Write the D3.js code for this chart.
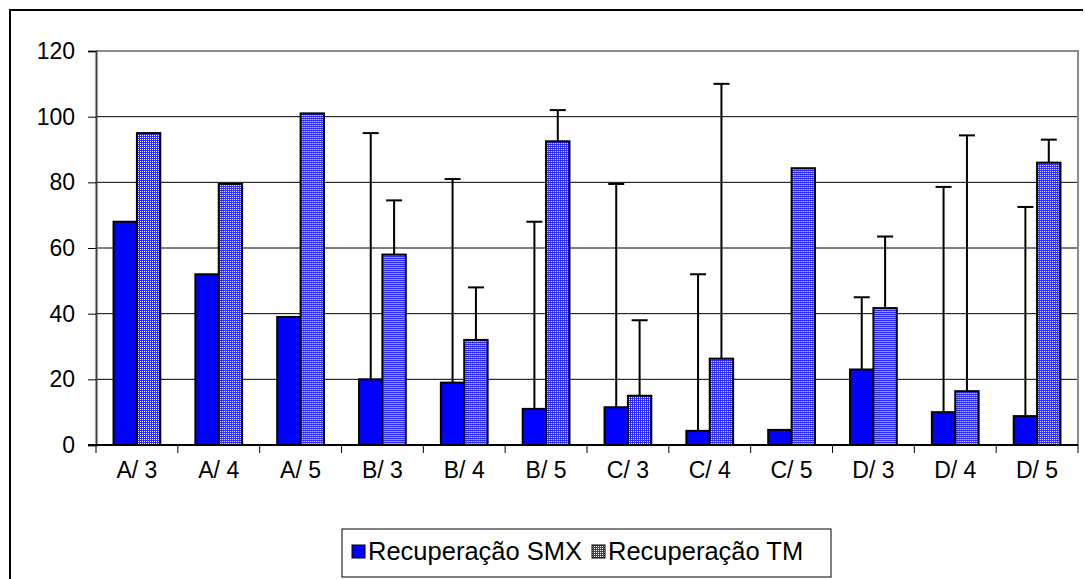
<!DOCTYPE html>
<html>
<head>
<meta charset="utf-8">
<script src="https://cdn.jsdelivr.net/npm/d3@7"></script>
<style>
  body { margin: 0; background: #fff; }
  text { font-family: "Liberation Sans", Arial, sans-serif; fill: #000; }
</style>
</head>
<body>
<div class="chart"></div>
<script>
// categories and values
var categories = ["A/ 3", "A/ 4", "A/ 5", "B/ 3", "B/ 4", "B/ 5", "C/ 3", "C/ 4", "C/ 5", "D/ 3", "D/ 4", "D/ 5"];
var smx = [68, 52, 39, 20, 19, 11, 11.5, 4.3, 4.6, 23, 10, 8.8];
var tm = [95, 79.5, 101, 58, 32, 92.5, 15, 26.3, 84.3, 41.7, 16.4, 86];
// top end of the (plus only) error bars, null = no bar
var smxHigh = [null, null, null, 95, 81, 68, 79.5, 52, null, 45, 78.6, 72.5];
var tmHigh = [null, null, null, 74.5, 48, 102, 38, 110, null, 63.5, 94.3, 93];
var yTicks = [0, 20, 40, 60, 80, 100, 120];
var seriesNames = ["Recuperação SMX", "Recuperação TM"];

var svgWidth = 1085;
var svgHeight = 579;
var margin = { top: 51, right: 7, bottom: 134, left: 96 };
var width = svgWidth - margin.left - margin.right;
var height = svgHeight - margin.top - margin.bottom;

var svg = d3.select(".chart")
  .append("svg")
  .attr("width", svgWidth)
  .attr("height", svgHeight);

// dithered blue fill for the TM series
var pat = svg.append("defs").append("pattern")
  .attr("id", "dots")
  .attr("patternUnits", "userSpaceOnUse")
  .attr("width", 2)
  .attr("height", 2);
pat.append("rect").attr("width", 2).attr("height", 2).attr("fill", "#2a2aff");
pat.append("rect").attr("width", 1).attr("height", 1).attr("fill", "#ffffff");

// outer chart frame (right and bottom run off the picture)
svg.append("path")
  .attr("d", "M10,600 V10 H1083")
  .attr("fill", "none")
  .attr("stroke", "#000")
  .attr("stroke-width", 2);

var chart = svg.append("g")
  .attr("transform", "translate(" + margin.left + "," + margin.top + ")");

var x0 = d3.scaleBand().domain(categories).range([0, width]).paddingInner(0).paddingOuter(0);
var groupW = x0.bandwidth();
var barW = groupW / 3.5;
var x1 = d3.scaleBand().domain([0, 1]).range([barW * 0.75, barW * 2.75]);
var y = d3.scaleLinear().domain([0, 120]).range([height, 0]);

// gridlines
chart.append("g")
  .selectAll("line")
  .data(yTicks.filter(function(d) { return d > 0 && d < 120; }))
  .enter()
  .append("line")
  .attr("x1", 0)
  .attr("x2", width)
  .attr("y1", function(d) { return y(d); })
  .attr("y2", function(d) { return y(d); })
  .attr("stroke", "#000")
  .attr("stroke-width", 1);

// plot area top and right edge
chart.append("path")
  .attr("d", "M0," + y(120) + " H" + width + " V" + height)
  .attr("fill", "none")
  .attr("stroke", "#8c8c8c")
  .attr("stroke-width", 2);

// bars
var groups = chart.selectAll(".grp")
  .data(categories)
  .enter()
  .append("g")
  .attr("class", "grp")
  .attr("transform", function(d) { return "translate(" + x0(d) + ",0)"; });

groups.append("rect")
  .attr("x", x1(0))
  .attr("y", function(d, i) { return y(smx[i]); })
  .attr("width", barW)
  .attr("height", function(d, i) { return height - y(smx[i]); })
  .attr("fill", "#0000ff")
  .attr("stroke", "#000")
  .attr("stroke-width", 2);

groups.append("rect")
  .attr("x", x1(1))
  .attr("y", function(d, i) { return y(tm[i]); })
  .attr("width", barW)
  .attr("height", function(d, i) { return height - y(tm[i]); })
  .attr("fill", "url(#dots)")
  .attr("stroke", "#000")
  .attr("stroke-width", 2);

// error bars, plus direction only
function errorBars(vals, highs, idx) {
  var cx = x1(idx) + barW / 2;
  var eb = groups.filter(function(d, i) { return highs[i] !== null; });
  eb.append("line")
    .attr("x1", cx).attr("x2", cx)
    .attr("y1", function(d) { var i = categories.indexOf(d); return y(vals[i]); })
    .attr("y2", function(d) { var i = categories.indexOf(d); return y(highs[i]); })
    .attr("stroke", "#000")
    .attr("stroke-width", 2);
  eb.append("line")
    .attr("x1", cx - 8).attr("x2", cx + 8)
    .attr("y1", function(d) { return y(highs[categories.indexOf(d)]); })
    .attr("y2", function(d) { return y(highs[categories.indexOf(d)]); })
    .attr("stroke", "#000")
    .attr("stroke-width", 2);
}
errorBars(smx, smxHigh, 0);
errorBars(tm, tmHigh, 1);

// y axis
var leftAxis = d3.axisLeft(y).tickValues(yTicks).tickSize(8).tickPadding(13);
var yAx = chart.append("g").call(leftAxis);
yAx.select(".domain").attr("stroke", "#404040").attr("stroke-width", 2);
yAx.selectAll(".tick line").attr("stroke", "#000");
yAx.selectAll("text").style("font-size", "23px").attr("font-family", null);

// x axis: ticks sit on category boundaries
var xAx = chart.append("g").attr("transform", "translate(0," + height + ")");
xAx.append("line")
  .attr("x1", -8).attr("x2", width)
  .attr("stroke", "#000").attr("stroke-width", 2);
xAx.selectAll(".xt")
  .data(d3.range(categories.length + 1))
  .enter()
  .append("line")
  .attr("x1", function(d) { return d * groupW; })
  .attr("x2", function(d) { return d * groupW; })
  .attr("y1", 0).attr("y2", 8)
  .attr("stroke", "#000");
xAx.selectAll(".xl")
  .data(categories)
  .enter()
  .append("text")
  .attr("x", function(d) { return x0(d) + groupW / 2; })
  .attr("y", 33)
  .attr("text-anchor", "middle")
  .style("font-size", "23px")
  .text(function(d) { return d; });

// legend
var legend = svg.append("g");
legend.append("rect")
  .attr("x", 342).attr("y", 529)
  .attr("width", 489).attr("height", 48)
  .attr("fill", "#fff")
  .attr("stroke", "#000")
  .attr("stroke-width", 1);
var legX = [352, 592];
var legFill = ["#0000ff", "url(#dots)"];
seriesNames.forEach(function(name, i) {
  legend.append("rect")
    .attr("x", legX[i]).attr("y", 545)
    .attr("width", 13).attr("height", 13)
    .attr("fill", legFill[i])
    .attr("stroke", "#000")
    .attr("stroke-width", 1);
  legend.append("text")
    .attr("x", legX[i] + 16).attr("y", 560)
    .style("font-size", "25.5px")
    .text(name);
});
</script>
</body>
</html>
